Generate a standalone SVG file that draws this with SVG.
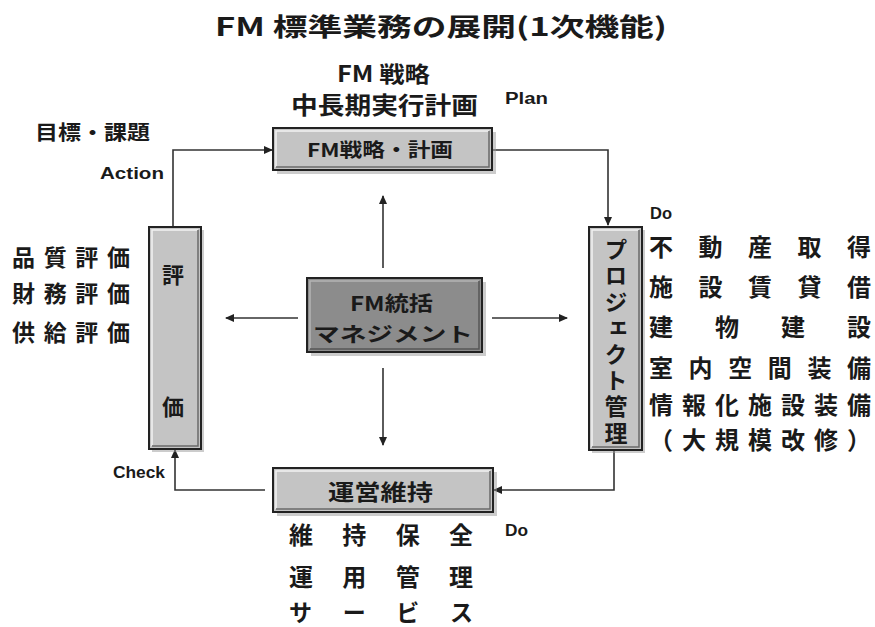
<svg xmlns="http://www.w3.org/2000/svg" width="875" height="627" viewBox="0 0 875 627">
<defs>
<style>
.jp{font-family:"Noto Sans CJK JP","Noto Sans",sans-serif;font-weight:700;fill:#1a1a1a}
.en{font-family:"Liberation Sans","DejaVu Sans",sans-serif;font-weight:700;fill:#1a1a1a}
.box{fill:#c4c4c4;stroke:#222;stroke-width:2}
.dark{fill:#8c8c8c;stroke:#222;stroke-width:2}
.hi{fill:none;stroke:#f2f2f2;stroke-width:1.5}
.lo{fill:none;stroke:#6a6a6a;stroke-width:1.5}
.sh{fill:#9a9a9a;opacity:0.5}
.ln{fill:none;stroke:#333;stroke-width:1.6}
</style>
<marker id="ah" markerWidth="9" markerHeight="8" refX="8" refY="4" orient="auto" markerUnits="userSpaceOnUse">
<path d="M0,0 L9,4 L0,8 Z" fill="#222"/>
</marker>
</defs>
<rect width="875" height="627" fill="#fff"/>

<g id="title">
<text class="jp" x="215" y="36" font-size="25" textLength="452" lengthAdjust="spacingAndGlyphs">FM 標準業務の展開(1次機能)</text>
</g>

<g id="plan-labels">
<text class="jp" x="337" y="82" font-size="22" textLength="93" lengthAdjust="spacingAndGlyphs">FM 戦略</text>
<text class="jp" x="291" y="114" font-size="24" textLength="187" lengthAdjust="spacingAndGlyphs">中長期実行計画</text>
<text class="en" x="505" y="104" font-size="16" textLength="43" lengthAdjust="spacingAndGlyphs">Plan</text>
</g>

<g id="action-labels">
<text class="jp" x="35" y="140" font-size="20" textLength="115" lengthAdjust="spacingAndGlyphs">目標・課題</text>
<text class="en" x="100" y="179" font-size="16" textLength="64" lengthAdjust="spacingAndGlyphs">Action</text>
</g>

<g id="connectors">
<path class="ln" d="M173,227 V150 H272" marker-end="url(#ah)"/>
<path class="ln" d="M493,150 H608 V225" marker-end="url(#ah)"/>
<path class="ln" d="M614,451 V490 H494" marker-end="url(#ah)"/>
<path class="ln" d="M265,490 H175 V450" marker-end="url(#ah)"/>
<path class="ln" d="M383,268 V196" marker-end="url(#ah)"/>
<path class="ln" d="M383,368 V445" marker-end="url(#ah)"/>
<path class="ln" d="M298,318 H226" marker-end="url(#ah)"/>
<path class="ln" d="M492,318 H567" marker-end="url(#ah)"/>
</g>

<g id="node-plan">
<rect class="sh" x="277" y="132" width="219" height="42"/>
<rect class="box" x="273" y="128" width="219" height="42"/>
<polyline class="hi" points="276,167 276,131 489,131"/>
<polyline class="lo" points="276,167 489,167 489,131"/>
<text class="jp" x="307" y="157" font-size="19" textLength="146" lengthAdjust="spacingAndGlyphs">FM戦略・計画</text>
</g>

<g id="node-eval">
<rect class="sh" x="152" y="230" width="52" height="222"/>
<rect class="box" x="149" y="227" width="52" height="222"/>
<polyline class="hi" points="152,446 152,230 198,230"/>
<polyline class="lo" points="152,446 198,446 198,230"/>
<text class="jp" x="173" y="283" font-size="22" text-anchor="middle">評</text>
<text class="jp" x="173" y="415" font-size="22" text-anchor="middle">価</text>
</g>

<g id="node-center">
<rect class="sh" x="311" y="282" width="175" height="74"/>
<rect class="dark" x="307" y="278" width="175" height="74"/>
<polyline class="hi" points="310,349 310,281 479,281" style="stroke:#b4b4b4"/>
<polyline class="lo" points="310,349 479,349 479,281" style="stroke:#555"/>
<text class="jp" x="350" y="311" font-size="20" textLength="83" lengthAdjust="spacingAndGlyphs">FM統括</text>
<text class="jp" x="313" y="342" font-size="20" textLength="160" lengthAdjust="spacingAndGlyphs">マネジメント</text>
</g>

<g id="node-project">
<rect class="sh" x="592" y="230" width="53" height="223"/>
<rect class="box" x="589" y="227" width="53" height="223"/>
<polyline class="hi" points="592,447 592,230 639,230"/>
<polyline class="lo" points="592,447 639,447 639,230"/>
<text class="jp" x="616" y="238" font-size="23" writing-mode="vertical-rl" letter-spacing="3.2">プロジェクト管理</text>
</g>

<g id="node-operation">
<rect class="sh" x="277" y="472" width="220" height="44"/>
<rect class="box" x="273" y="468" width="220" height="44"/>
<polyline class="hi" points="276,509 276,471 490,471"/>
<polyline class="lo" points="276,509 490,509 490,471"/>
<text class="jp" x="328" y="500" font-size="22" textLength="105" lengthAdjust="spacingAndGlyphs">運営維持</text>
</g>

<g id="check-labels">
<text class="en" x="113" y="478" font-size="16" textLength="52" lengthAdjust="spacingAndGlyphs">Check</text>
<text class="jp" x="12" y="266" font-size="23" textLength="118" lengthAdjust="spacing">品質評価</text>
<text class="jp" x="12" y="302" font-size="23" textLength="118" lengthAdjust="spacing">財務評価</text>
<text class="jp" x="12" y="341" font-size="23" textLength="118" lengthAdjust="spacing">供給評価</text>
</g>

<g id="do-project-labels">
<text class="en" x="650" y="219" font-size="16" textLength="22" lengthAdjust="spacingAndGlyphs">Do</text>
<text class="jp" x="649" y="256" font-size="24" textLength="222" lengthAdjust="spacing">不動産取得</text>
<text class="jp" x="649" y="296" font-size="24" textLength="222" lengthAdjust="spacing">施設賃貸借</text>
<text class="jp" x="649" y="336" font-size="24" textLength="222" lengthAdjust="spacing">建物建設</text>
<text class="jp" x="649" y="377" font-size="24" textLength="222" lengthAdjust="spacing">室内空間装備</text>
<text class="jp" x="649" y="414" font-size="24" textLength="222" lengthAdjust="spacing">情報化施設装備</text>
<text class="jp" x="649" y="449" font-size="24" textLength="222" lengthAdjust="spacing">（大規模改修）</text>
</g>

<g id="do-operation-labels">
<text class="en" x="505" y="536" font-size="16" textLength="23" lengthAdjust="spacingAndGlyphs">Do</text>
<text class="jp" x="289" y="544" font-size="24" textLength="184" lengthAdjust="spacing">維持保全</text>
<text class="jp" x="289" y="586" font-size="24" textLength="184" lengthAdjust="spacing">運用管理</text>
<text class="jp" x="289" y="621" font-size="23" textLength="184" lengthAdjust="spacing">サービス</text>
</g>
</svg>
